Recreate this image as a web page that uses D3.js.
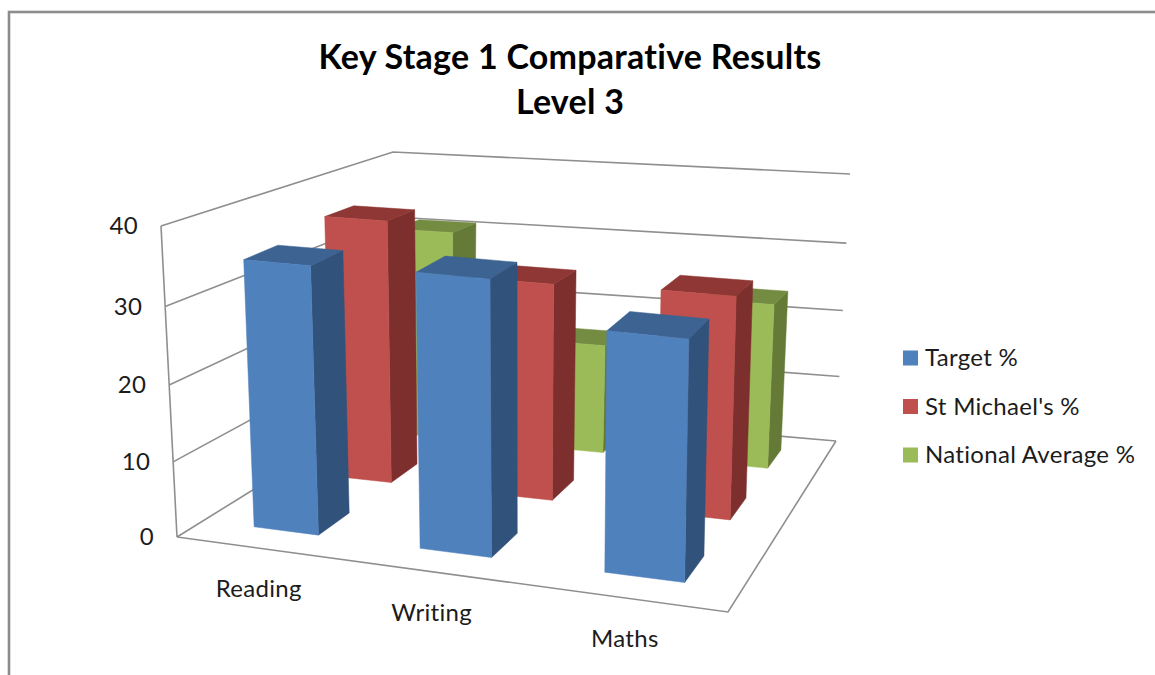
<!DOCTYPE html>
<html>
<head>
<meta charset="utf-8">
<script src="https://cdn.jsdelivr.net/npm/d3@7"></script>
<style>
  html, body { margin: 0; padding: 0; background: #fff; overflow: hidden; }
  text { font-family: Lato, "Open Sans", sans-serif; fill: #1c1c1c; font-variant-ligatures: none; letter-spacing: 0.3px; }
</style>
</head>
<body>
<svg id="chart" width="1155" height="675"></svg>
<script>
// Chart data
const categories = ["Reading", "Writing", "Maths"];
const seriesNames = ["Target %", "St Michael's %", "National Average %"];
const targetValues = [35, 35.4, 30.5];
const stMichaelsValues = [36.3, 29.6, 30];
const nationalValues = [30.9, 16, 23.8];
const valueTicks = [0, 10, 20, 30, 40];
const titleLines = ["Key Stage 1 Comparative Results", "Level 3"];

const seriesValues = [targetValues, stMichaelsValues, nationalValues];

// Fill colours per series: front face, side face, top face
const seriesColors = [
  { front: "#4f81bd", side: "#31527b", top: "#3c6391" },
  { front: "#c0504d", side: "#7d2f2d", top: "#8e3735" },
  { front: "#9bbb59", side: "#657a36", top: "#748c42" }
];

// Maps the unit square onto a screen quadrilateral (perspective mapping)
function quadMapping(p00, p10, p01, p11) {
  const dx1 = p10[0] - p11[0], dx2 = p01[0] - p11[0], sx = p00[0] - p10[0] + p11[0] - p01[0];
  const dy1 = p10[1] - p11[1], dy2 = p01[1] - p11[1], sy = p00[1] - p10[1] + p11[1] - p01[1];
  const den = dx1 * dy2 - dx2 * dy1;
  const g = (sx * dy2 - dx2 * sy) / den;
  const h = (dx1 * sy - sx * dy1) / den;
  const a = p10[0] - p00[0] + g * p10[0], b = p01[0] - p00[0] + h * p01[0];
  const d = p10[1] - p00[1] + g * p10[1], e = p01[1] - p00[1] + h * p01[1];
  return (u, v) => {
    const w = g * u + h * v + 1;
    return [(a * u + b * v + p00[0]) / w, (d * u + e * v + p00[1]) / w];
  };
}

// The plot box: the floor plane, and the vector up to the 40 level at each floor corner
const floorPlane = quadMapping([177, 537], [728, 612], [393, 403], [836, 441]);
const riseFront = [[-16, -311], [7, -331]];
const riseBack = [[0, -251], [14, -267]];
const verticalPerspective = 0.955;

// Scales
const uScale = d3.scaleBand().domain(categories).range([0.008, 1.008]).paddingInner(0.6).paddingOuter(0.3);
const depthScale = d3.scaleBand().domain(seriesNames).range([0, 1]).paddingInner(0.6).paddingOuter(0.3);
const valueScale = d3.scaleLinear().domain([0, 40]).range([0, 1]);

// Chart space (across, value, depth) to screen
function project(u, value, v) {
  const f = floorPlane(u, v);
  const t0 = valueScale(value);
  const t = t0 * verticalPerspective / (1 + (verticalPerspective - 1) * t0);
  const rise = [0, 1].map(k =>
    (riseFront[0][k] * (1 - u) + riseFront[1][k] * u) * (1 - v) +
    (riseBack[0][k] * (1 - u) + riseBack[1][k] * u) * v);
  return [f[0] + rise[0] * t, f[1] + rise[1] * t];
}

const svg = d3.select("#chart");
const path = d3.line();

// Outer chart frame, running off the right and bottom of the page
svg.append("rect")
  .attr("x", 9).attr("y", 12).attr("width", 1200).attr("height", 720)
  .attr("fill", "#fff").attr("stroke", "#8c8c8c").attr("stroke-width", 2.6);

// Title
svg.append("g").selectAll("text").data(titleLines).join("text")
  .attr("x", 570)
  .attr("y", (d, i) => 69 + i * 45)
  .attr("text-anchor", "middle")
  .attr("font-size", 34)
  .attr("font-weight", 700)
  .style("fill", "#000")
  .style("letter-spacing", "0.25px")
  .text(d => d);

const frame = svg.append("g")
  .attr("fill", "none").attr("stroke", "#8f8f8f").attr("stroke-width", 1.6);

// Gridlines on the left and back walls
valueTicks.forEach(tick => {
  frame.append("path").attr("d", path([project(0, tick, 0), project(0, tick, 1), project(1, tick, 1)]));
});
// Vertical axis and the outer edges of the floor
frame.append("path").attr("d", path([project(0, 40, 0), project(0, 0, 0)]));
frame.append("path").attr("d", path([project(0, 0, 0), project(1, 0, 0), project(1, 0, 1)]));

// Value axis labels
svg.append("g").selectAll("text").data(valueTicks).join("text")
  .attr("x", d => project(0, d, 0)[0] - 23)
  .attr("y", d => project(0, d, 0)[1])
  .attr("dy", "0.35em")
  .attr("text-anchor", "end")
  .attr("font-size", 24)
  .text(d => d);

// Category labels sit below the front floor edge
const bandMiddle = d => uScale(d) + uScale.bandwidth() / 2 - 0.006;
svg.append("g").selectAll("text").data(categories).join("text")
  .attr("x", d => project(bandMiddle(d), 0, 0)[0] + 1)
  .attr("y", d => project(bandMiddle(d), 0, 0)[1] + 41)
  .attr("dy", "0.35em")
  .attr("text-anchor", "middle")
  .attr("font-size", 24)
  .text(d => d);

// Bars are painted from the back row forward, left to right within a row
const bars = svg.append("g");
d3.range(seriesNames.length).reverse().forEach(s => {
  categories.forEach((cat, c) => {
    const value = seriesValues[s][c];
    const u0 = uScale(cat), u1 = u0 + uScale.bandwidth();
    const v0 = depthScale(seriesNames[s]), v1 = v0 + depthScale.bandwidth();
    const col = seriesColors[s];
    const face = (pts, fill) => bars.append("path")
      .attr("d", path(pts) + "Z").attr("fill", fill).attr("stroke", fill).attr("stroke-width", 0.5);
    face([project(u1, 0, v0), project(u1, 0, v1), project(u1, value, v1), project(u1, value, v0)], col.side);
    face([project(u0, value, v0), project(u1, value, v0), project(u1, value, v1), project(u0, value, v1)], col.top);
    face([project(u0, 0, v0), project(u1, 0, v0), project(u1, value, v0), project(u0, value, v0)], col.front);
  });
});

// Legend
const legendY = d3.scalePoint().domain(seriesNames).range([358, 455]);
const legend = svg.append("g").selectAll("g").data(seriesNames).join("g")
  .attr("transform", d => `translate(903,${legendY(d)})`);
legend.append("rect")
  .attr("x", 0).attr("y", -7.5).attr("width", 15).attr("height", 15)
  .attr("fill", (d, i) => seriesColors[i].front);
legend.append("text")
  .attr("x", 22).attr("dy", "0.35em")
  .attr("font-size", 24)
  .text(d => d);
</script>
</body>
</html>
